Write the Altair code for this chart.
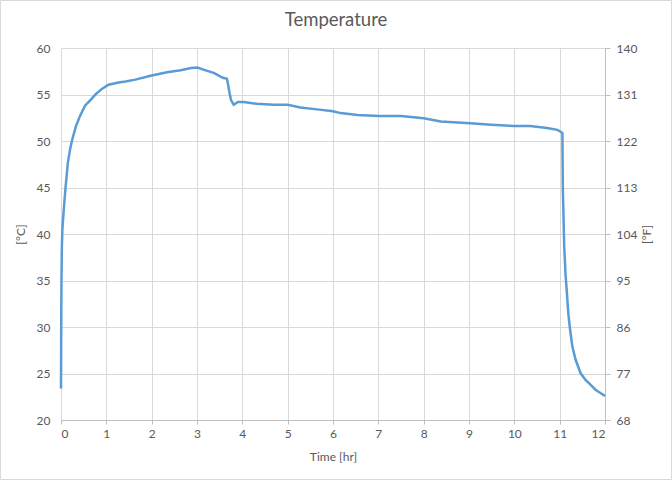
import altair as alt
import pandas as pd

# Time [hr]
time_hr = [0, 0.005, 0.01, 0.02, 0.03, 0.04, 0.07, 0.1, 0.15, 0.2, 0.24, 0.33, 0.42,
           0.53, 0.67, 0.76, 0.9, 1.05, 1.27, 1.42, 1.64, 2.0, 2.34, 2.64, 2.87, 3.01,
           3.16, 3.38, 3.57, 3.66, 3.68, 3.72, 3.75, 3.81, 3.9, 4.03, 4.32, 4.69, 5.0,
           5.28, 5.65, 6.0, 6.17, 6.54, 7.02, 7.5, 8.0, 8.38, 8.75, 9.03, 9.49, 10.0,
           10.35, 10.72, 10.95, 11.02, 11.06, 11.07, 11.1, 11.13, 11.16, 11.19, 11.23,
           11.28, 11.35, 11.46, 11.57, 11.68, 11.79, 11.9, 12.0]
# Temperature [°C]
temp_c = [23.4, 30, 35, 38.8, 40.5, 41.2, 43.2, 45.0, 47.6, 49.1, 50.0, 51.6, 52.7,
          53.8, 54.5, 55.0, 55.6, 56.05, 56.3, 56.4, 56.6, 57.05, 57.4, 57.6, 57.85, 57.9,
          57.65, 57.3, 56.8, 56.7, 56.2, 55.1, 54.4, 53.9, 54.2, 54.2, 54.0, 53.9, 53.9,
          53.6, 53.4, 53.2, 53.0, 52.8, 52.7, 52.7, 52.45, 52.1, 52.0, 51.9, 51.75, 51.6,
          51.6, 51.4, 51.2, 51.0, 50.85, 44.8, 38.7, 35.6, 33.65, 31.5, 29.7,
          27.9, 26.5, 25.05, 24.3, 23.8, 23.26, 22.9, 22.6]

x_ticks = list(range(0, 13))
c_ticks = [20, 25, 30, 35, 40, 45, 50, 55, 60]
f_ticks = [68, 77, 86, 95, 104, 113, 122, 131, 140]
title_text = "Temperature"

df = pd.DataFrame({"t": time_hr, "C": temp_c})
df["F"] = df["C"] * 9 / 5 + 32

TXT = "#595959"
FONT = "Lato"
W, H = 544, 372

base = alt.Chart(df)

line_c = base.mark_line(color="#5B9BD5", strokeWidth=2.5).encode(
    x=alt.X("t:Q", scale=alt.Scale(domain=[0, 12], nice=False),
            axis=alt.Axis(values=x_ticks, title="Time [hr]", grid=True, gridColor="#d9d9d9",
                          domainColor="#bfbfbf", tickColor="#bfbfbf", tickSize=4,
                          labelPadding=4, titleY=36, titleBaseline="middle")),
    y=alt.Y("C:Q", scale=alt.Scale(domain=[20, 60], nice=False),
            axis=alt.Axis(values=c_ticks, title="[°C]", grid=True, gridColor="#d9d9d9",
                          domain=False, ticks=False, tickSize=0, labelPadding=11,
                          titleAngle=270, titleX=-41, titleY=H / 2,
                          titleAlign="center", titleBaseline="middle")),
)

line_f = base.mark_line(opacity=0).encode(
    x=alt.X("t:Q", scale=alt.Scale(domain=[0, 12], nice=False)),
    y=alt.Y("F:Q", scale=alt.Scale(domain=[68, 140], nice=False),
            axis=alt.Axis(orient="right", values=f_ticks, title="[°F]", grid=False,
                          domainColor="#bfbfbf", tickColor="#bfbfbf", tickSize=5,
                          labelPadding=6, titleAngle=270, titleX=41, titleY=H / 2,
                          titleAlign="center", titleBaseline="middle")),
)

frame_df = pd.DataFrame({"a": [0]})
border = alt.Chart(frame_df).mark_rect(
    fillOpacity=0, stroke="#d9d9d9", strokeWidth=1
).encode(
    x=alt.value(-60.5), x2=alt.value(610.5), y=alt.value(-47.5), y2=alt.value(431.5)
)

title = alt.Chart(frame_df).mark_text(
    text=title_text, font=FONT, fontSize=18.5, color=TXT, align="center", baseline="middle"
).encode(x=alt.value(275), y=alt.value(-28))

chart = alt.layer(border, title, line_c, line_f).resolve_scale(y="independent").properties(
    width=W, height=H,
    autosize=alt.AutoSizeParams(type="none"),
    padding={"left": 61, "top": 48, "right": 67, "bottom": 60},
    background="white",
).configure_view(stroke=None).configure_axis(
    labelColor=TXT, labelFont=FONT, labelFontSize=12,
    titleColor=TXT, titleFont=FONT, titleFontSize=12, titleFontWeight="normal",
)

chart.save("out.html", embed_options={"renderer": "svg", "actions": False})
